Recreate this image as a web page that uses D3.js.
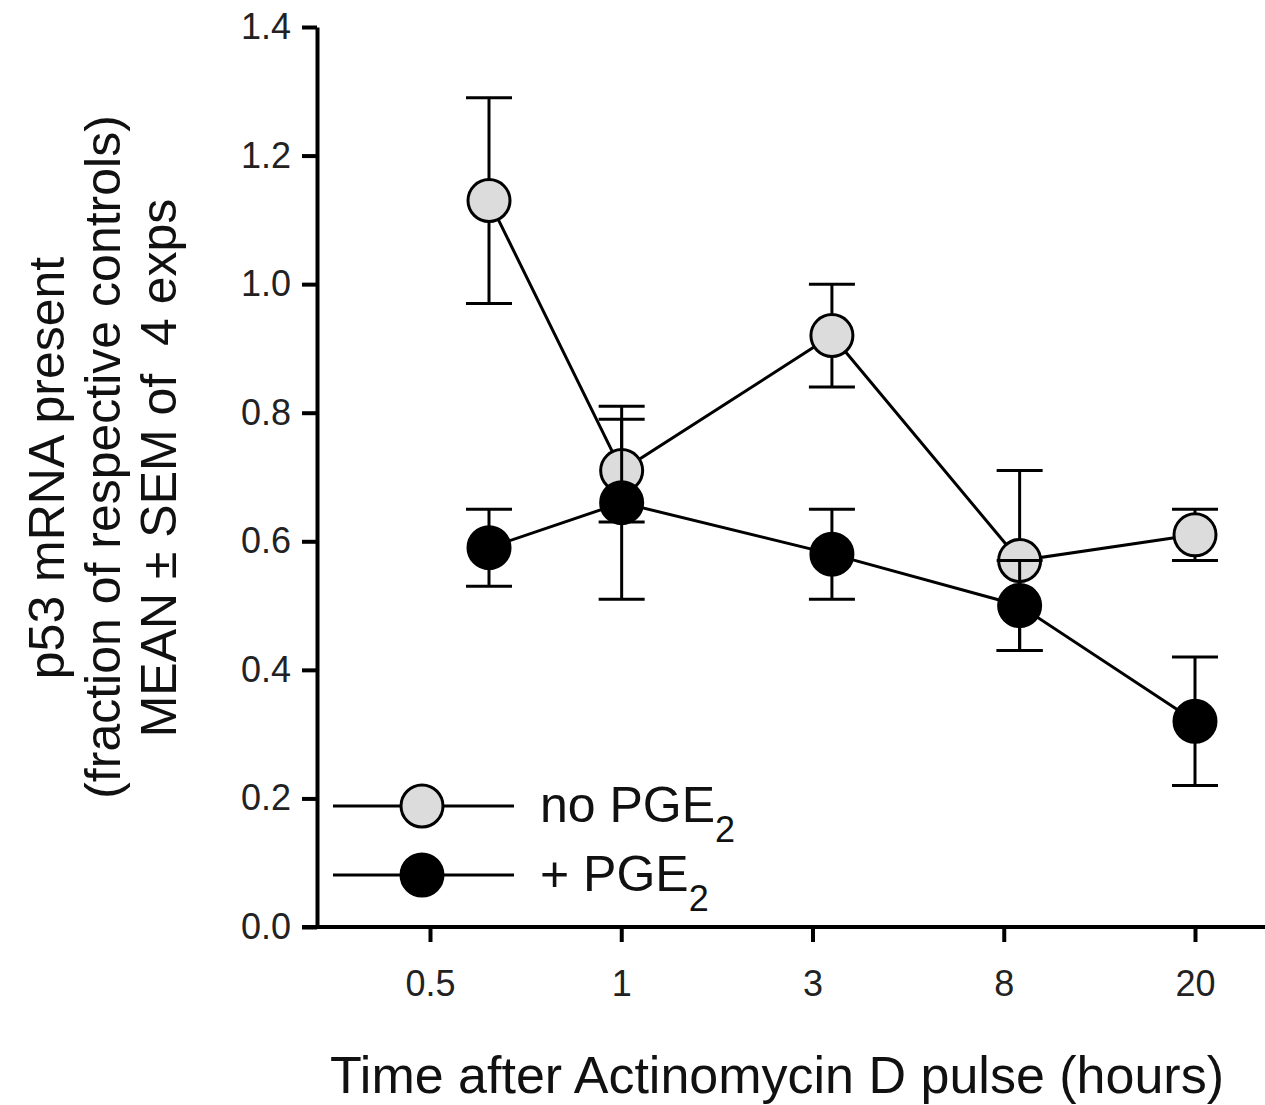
<!DOCTYPE html>
<html lang="en">

<head>
  <meta charset="UTF-8">
  <script src="https://d3js.org/d3.v7.min.js"></script>
  <style>
    body {
      margin: 0;
      background: #fff;
    }

    svg {
      display: block;
      font-family: "Liberation Sans", Arial, Helvetica, sans-serif;
    }

    .axis path,
    .axis line {
      stroke: #000;
      stroke-width: 4px;
    }

    .axis text {
      font-family: "Liberation Sans", Arial, Helvetica, sans-serif;
      font-size: 36px;
      fill: #222;
    }

    .link {
      fill: none;
      stroke: #000;
      stroke-width: 3px;
    }

    .err {
      stroke: #000;
      stroke-width: 3px;
    }
  </style>
</head>

<body>
  <div id="chart"></div>

  <script>
    // hours after the pulse, and the labels put under the axis
    const hours = [0.5, 1, 3, 8, 20];
    const hourLabels = ['0.5', '1', '3', '8', '20'];
    const yTicks = [0, 0.2, 0.4, 0.6, 0.8, 1.0, 1.2, 1.4];

    // mean and SEM
    const noPgeMean = [1.13, 0.71, 0.92, 0.57, 0.61];
    const noPgeSem = [0.16, 0.08, 0.08, 0.14, 0.04];
    const pgeMean = [0.59, 0.66, 0.58, 0.50, 0.32];
    const pgeSem = [0.06, 0.15, 0.07, 0.07, 0.10];

    const seriesNames = ['no PGE', '+ PGE'];

    const width = 1265, height = 1105;

    const svg = d3.select('#chart').append('svg')
      .attr('width', width).attr('height', height);

    const y = d3.scaleLinear().domain([0, 1.4]).range([927, 27]);
    // points sit on a log time scale, labels are evenly spaced
    const x = d3.scaleLog().domain([0.5, 20]).range([489, 1195]);
    const xLab = d3.scalePoint().domain(hourLabels).range([430, 1195]);

    // y axis
    svg.append('g')
      .attr('class', 'axis')
      .attr('transform', 'translate(317,0)')
      .call(d3.axisLeft(y).tickValues(yTicks).tickSize(15).tickSizeOuter(0)
        .tickPadding(11).tickFormat(d3.format('.1f')));

    // x axis
    const xg = svg.append('g')
      .attr('class', 'axis')
      .attr('transform', 'translate(0,927)')
      .call(d3.axisBottom(xLab).tickSize(15).tickPadding(28));
    xg.select('.domain').remove();
    xg.append('line').attr('x1', 302).attr('x2', width).attr('stroke', '#000').attr('stroke-width', 4);

    const series = [
      { name: seriesNames[0], mean: noPgeMean, sem: noPgeSem, fill: '#dcdcdc' },
      { name: seriesNames[1], mean: pgeMean, sem: pgeSem, fill: '#000' }
    ];

    const line = d3.line().x(d => x(d.t)).y(d => y(d.m));

    series.forEach(s => {
      const pts = hours.map((t, i) => ({ t: t, m: s.mean[i], e: s.sem[i] }));
      const g = svg.append('g');

      g.append('path').datum(pts).attr('class', 'link').attr('d', line);

      const eb = g.selectAll('g.eb').data(pts).enter().append('g').attr('class', 'eb');
      eb.append('line').attr('class', 'err')
        .attr('x1', d => x(d.t)).attr('x2', d => x(d.t))
        .attr('y1', d => y(d.m - d.e)).attr('y2', d => y(d.m + d.e));
      eb.append('line').attr('class', 'err')
        .attr('x1', d => x(d.t) - 23).attr('x2', d => x(d.t) + 23)
        .attr('y1', d => y(d.m + d.e)).attr('y2', d => y(d.m + d.e));
      eb.append('line').attr('class', 'err')
        .attr('x1', d => x(d.t) - 23).attr('x2', d => x(d.t) + 23)
        .attr('y1', d => y(d.m - d.e)).attr('y2', d => y(d.m - d.e));

      g.selectAll('circle').data(pts).enter().append('circle')
        .attr('cx', d => x(d.t)).attr('cy', d => y(d.m))
        .attr('r', 21)
        .attr('fill', s.fill).attr('stroke', '#000').attr('stroke-width', 3);
    });

    // legend
    const leg = svg.selectAll('g.leg').data(series).enter().append('g')
      .attr('class', 'leg')
      .attr('transform', (d, i) => `translate(0,${806 + i * 69})`);
    leg.append('line').attr('x1', 333).attr('x2', 514)
      .attr('stroke', '#000').attr('stroke-width', 3);
    leg.append('circle').attr('cx', 422).attr('r', 21)
      .attr('fill', d => d.fill).attr('stroke', '#000').attr('stroke-width', 3);
    const lt = leg.append('text').attr('x', 540).attr('y', 16)
      .style('font-size', '50px').attr('fill', '#111');
    lt.append('tspan').text(d => d.name);
    lt.append('tspan').attr('dy', 20).style('font-size', '36px').text('2');

    // axis titles
    svg.append('text')
      .attr('x', 777).attr('y', 1093)
      .attr('text-anchor', 'middle')
      .style('font-size', '52px').attr('fill', '#111')
      .text('Time after Actinomycin D pulse (hours)');

    const yTitle = ['p53 mRNA present', '(fraction of respective controls)', 'MEAN \u00b1 SEM of  4 exps'];
    const yTitleMid = [468, 457, 468];
    svg.selectAll('text.ytitle').data(yTitle).enter().append('text')
      .attr('class', 'ytitle')
      .attr('transform', (d, i) => `translate(${64 + i * 56},${yTitleMid[i]}) rotate(-90)`)
      .attr('text-anchor', 'middle')
      .style('font-size', '50px').attr('fill', '#111')
      .style('white-space', 'pre')
      .text(d => d);
  </script>

</body>

</html>
